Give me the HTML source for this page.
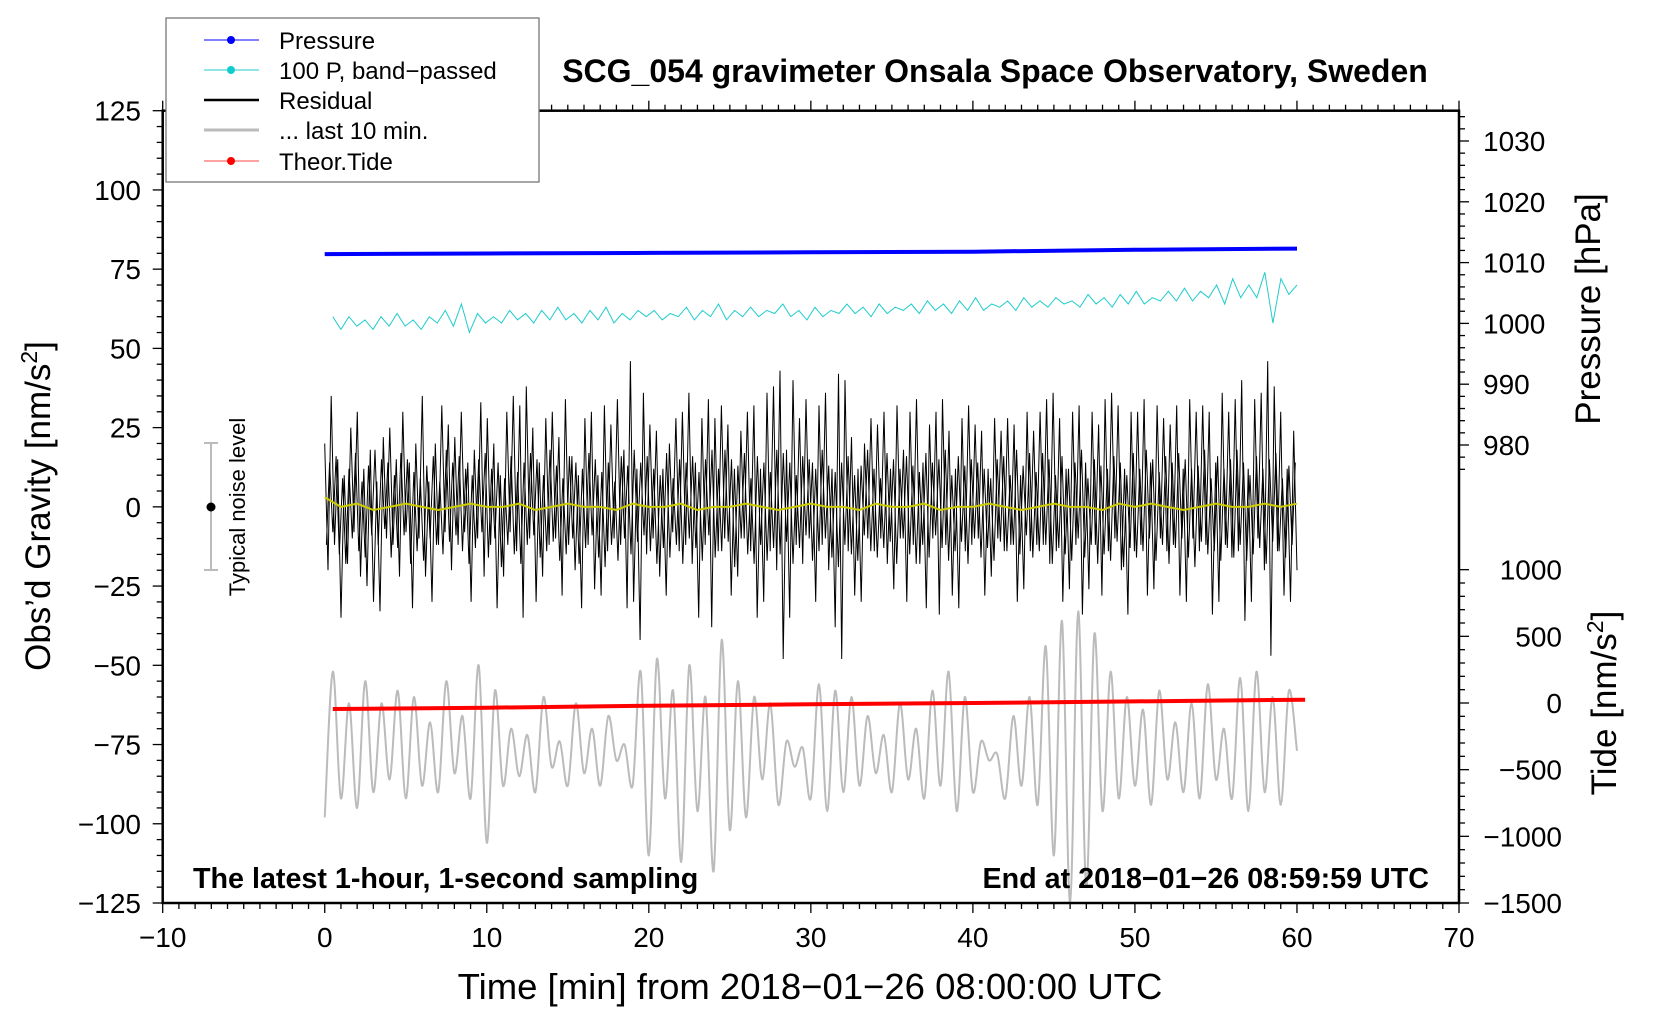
<!DOCTYPE html>
<html><head><meta charset="utf-8">
<style>
html,body{margin:0;padding:0;background:#fff;}
svg{display:block;font-family:"Liberation Sans",sans-serif;}
</style></head>
<body>
<svg id="chart" width="1660" height="1020" viewBox="0 0 1660 1020" xmlns="http://www.w3.org/2000/svg">
<rect x="0" y="0" width="1660" height="1020" fill="#fff"/>
<g id="plot"></g>
<g id="axes"></g>
<text x="995" y="82" font-size="32" font-weight="bold" text-anchor="middle">SCG_054 gravimeter Onsala Space Observatory, Sweden</text>
<text x="193" y="888" font-size="28.7" font-weight="bold">The latest 1-hour, 1-second sampling</text>
<text x="1429" y="888" font-size="28.7" font-weight="bold" text-anchor="end">End at 2018−01−26 08:59:59 UTC</text>
<text transform="translate(50,506) rotate(-90)" font-size="35" text-anchor="middle">Obs’d Gravity [nm/s<tspan font-size="23" dy="-13">2</tspan><tspan dy="13">]</tspan></text>
<text x="810" y="999" font-size="36.5" text-anchor="middle">Time [min] from 2018−01−26 08:00:00 UTC</text>
<text transform="translate(1600,309) rotate(-90)" font-size="35" text-anchor="middle">Pressure [hPa]</text>
<text transform="translate(1616,703) rotate(-90)" font-size="35" text-anchor="middle">Tide [nm/s<tspan font-size="23" dy="-13">2</tspan><tspan dy="13">]</tspan></text>
<g>
<line x1="211" y1="443" x2="211" y2="570" stroke="#bbb" stroke-width="2"/>
<line x1="204" y1="443" x2="218" y2="443" stroke="#bbb" stroke-width="2"/>
<line x1="204" y1="570" x2="218" y2="570" stroke="#bbb" stroke-width="2"/>
<circle cx="211" cy="507" r="4.5" fill="#000"/>
<text transform="translate(245,507) rotate(-90)" font-size="22" text-anchor="middle">Typical noise level</text>
</g>
<g>
<rect x="166" y="18" width="373" height="164" fill="#fff" stroke="#777" stroke-width="1.3"/>
<g><line x1="204" y1="40" x2="259" y2="40" stroke="#00f" stroke-width="1"/><circle cx="231" cy="40" r="4" fill="#00f"/><text x="279" y="49" font-size="24">Pressure</text></g>
<g><line x1="204" y1="70" x2="259" y2="70" stroke="#2cc" stroke-width="1"/><circle cx="231" cy="70" r="4" fill="#1cc"/><text x="279" y="79" font-size="24">100 P, band−passed</text></g>
<g><line x1="204" y1="100" x2="259" y2="100" stroke="#000" stroke-width="2.5"/><text x="279" y="109" font-size="24">Residual</text></g>
<g><line x1="204" y1="130" x2="259" y2="130" stroke="#bbb" stroke-width="3"/><text x="279" y="139" font-size="24">... last 10 min.</text></g>
<g><line x1="204" y1="161" x2="259" y2="161" stroke="#f44" stroke-width="1"/><circle cx="231" cy="161" r="4" fill="#f00"/><text x="279" y="170" font-size="24">Theor.Tide</text></g>
</g>
</svg>
<script>
// ---- data ----
const residual = [
20,-20,35,-12,15,-35,10,-18,25,-8,30,-22,12,-25,18,-30,8,-33,22,-10,
25,-12,15,-22,30,-8,14,-32,20,-10,35,-22,8,-30,20,-12,32,-8,26,-20,
22,-12,30,-8,14,-30,18,-10,33,-22,28,-12,20,-32,10,-22,30,-8,35,-14,
32,-35,38,-10,25,-30,14,-22,28,-12,30,-10,22,-28,34,-12,16,-20,10,-32,
28,-12,30,-26,10,-28,32,-14,26,-10,34,-12,18,-32,46,-30,12,-42,36,-15,
26,-10,24,-22,12,-28,20,-8,28,-14,30,-12,36,-18,14,-35,28,-12,34,-38,
28,-14,32,-10,26,-28,12,-22,24,-10,30,-14,32,-35,12,-30,36,-14,38,-20,
43,-48,18,-35,40,-12,28,-18,34,-10,14,-30,32,-12,36,-20,12,-38,42,-48,
40,-14,22,-28,12,-30,20,-10,28,-14,26,-10,30,-18,12,-26,32,-10,18,-30,
30,-12,34,-18,14,-32,26,-10,30,-34,34,-12,24,-28,12,-32,28,-14,32,-12,
26,-10,24,-28,12,-22,28,-10,24,-14,28,-12,26,-30,10,-26,30,-14,24,-12,
30,-12,34,-18,36,-14,28,-30,12,-26,30,-12,32,-34,14,-26,30,-12,26,-28,
34,-14,36,-10,32,-20,12,-34,30,-14,30,-12,34,-28,14,-26,32,-10,28,-14,
26,-12,32,-28,12,-30,34,-10,30,-14,32,-12,30,-34,14,-30,36,-12,30,-16,
34,-14,40,-36,12,-30,34,-10,36,-20,46,-47,38,-14,30,-28,12,-30,24,-20];
const residualCore = [
-12,14,-8,16,-15,9,-18,12,-10,17,-14,8,-16,13,-9,18,-12,15,-7,14,
-16,10,-13,17,-9,15,-18,11,-14,9,-17,13,-10,16,-12,8,-15,18,-11,14,
-9,16,-14,12,-18,10,-13,15,-8,17,-16,12,-10,14,-19,9,-12,16,-15,11,
-18,14,-12,17,-9,15,-16,10,-14,18,-11,13,-17,9,-15,16,-10,14,-18,12,
-13,17,-9,15,-16,11,-19,14,-12,8,-17,16,-10,13,-15,18,-11,14,-9,16,
-14,12,-18,10,-13,17,-16,9,-12,15,-18,14,-10,16,-13,11,-17,15,-9,18,
-16,12,-14,18,-11,15,-19,13,-10,17,-15,9,-18,16,-12,14,-17,11,-13,18,
-15,17,-11,14,-18,10,-13,16,-9,15,-17,12,-14,18,-10,13,-16,11,-19,14,
-12,16,-15,10,-17,13,-9,18,-14,12,-16,9,-13,17,-11,15,-18,12,-10,16,
-15,13,-18,11,-12,17,-16,14,-9,15,-13,18,-17,10,-14,16,-11,13,-18,15,
-10,14,-16,12,-13,9,-17,15,-11,16,-14,10,-12,18,-15,13,-9,17,-16,11,
-14,17,-12,15,-18,10,-13,16,-15,12,-17,14,-10,18,-16,9,-12,15,-18,13,
-15,12,-17,16,-11,14,-19,10,-13,17,-16,12,-14,18,-10,15,-17,11,-12,16,
-18,14,-13,17,-10,15,-16,12,-19,13,-11,18,-15,9,-14,16,-17,12,-13,15,
-16,18,-12,14,-17,10,-15,16,-13,12,-18,15,-11,17,-14,9,-16,13,-12,14];
const grayLast10 = [
-98,-52,-92,-62,-95,-55,-90,-62,-86,-58,-92,-60,-88,-68,-90,-55,-84,-66,-92,-50,
-106,-58,-88,-70,-85,-72,-90,-60,-82,-74,-88,-62,-84,-70,-88,-66,-80,-75,-88,-52,
-110,-48,-92,-58,-112,-50,-96,-60,-115,-42,-102,-55,-98,-60,-86,-62,-94,-74,-82,-76,
-92,-56,-96,-58,-90,-60,-88,-66,-84,-72,-90,-62,-86,-70,-92,-58,-88,-52,-96,-60,
-90,-74,-80,-78,-92,-66,-88,-60,-94,-44,-110,-36,-125,-33,-120,-40,-96,-52,-92,-60,
-88,-64,-94,-58,-86,-68,-90,-62,-92,-56,-86,-70,-92,-54,-96,-52,-90,-60,-94,-58,-77];
const cyan = [
60,56,60,57,59,56,60,57,61,57,59,56,60,58,62,57,64,55,61,58,
60,58,62,59,61,58,62,59,63,59,61,58,62,59,63,58,61,59,62,60,
62,59,61,60,63,59,62,60,64,59,62,60,63,60,62,61,64,60,62,59,
63,60,62,61,64,61,63,60,64,61,63,62,64,61,65,62,64,61,65,62,
66,62,64,63,65,62,66,63,65,63,66,64,65,63,67,64,66,63,67,64,
68,64,66,65,68,65,69,65,68,66,70,64,72,66,70,66,74,58,72,67,70];
const yellowRes = [3,0,1,-1,0,1,0,-1,0,1,0,0,1,-1,0,1,0,0,-1,1,0,0,1,-1,0,0,1,0,-1,0,1,0,0,-1,1,0,0,1,-1,0,0,1,0,-1,0,1,0,0,-1,1,0,1,0,-1,0,1,0,0,1,0,1];
const pressureTimes = [0,10,20,30,40,50,60];
const pressureHpa = [1011.4,1011.5,1011.6,1011.7,1011.8,1012.1,1012.3];
const tideTimes = [0.5,10,20,30,40,50,60.5];
const tideNms2 = [-45,-35,-20,-10,0,12,25];
const xTicks = [-10,0,10,20,30,40,50,60,70];
const yTicks = [125,100,75,50,25,0,-25,-50,-75,-100,-125];
const pTicks = [1030,1020,1010,1000,990,980];
const tTicks = [1000,500,0,-500,-1000,-1500];

// ---- scales ----
const X0=162.7, X1=1459, Y0=110.7, Y1=903;
const xs = t => X0 + (t+10)/80*(X1-X0);
const ys = v => (Y0+Y1)/2 - v*(Y1-Y0)/250;
const ps = p => 445 - (p-980)*(445-141)/50;
const ts = v => 703 - v*(903-703)/1500;
const NS='http://www.w3.org/2000/svg';
const plot=document.getElementById('plot'), axes=document.getElementById('axes');
function mk(tag, attrs, parent){const e=document.createElementNS(NS,tag);for(const k in attrs)e.setAttribute(k,attrs[k]);parent.appendChild(e);return e;}
function series(vals, t0, t1){const n=vals.length;return vals.map((v,i)=>[t0+(t1-t0)*i/(n-1), v]);}
function pathOf(pts, fx, fy){return pts.map((p,i)=>(i?'L':'M')+fx(p[0]).toFixed(1)+' '+fy(p[1]).toFixed(1)).join('');}
function smoothPath(pts, fx, fy){
  const P=pts.map(p=>[fx(p[0]),fy(p[1])]);let d='M'+P[0][0].toFixed(1)+' '+P[0][1].toFixed(1);
  for(let i=0;i<P.length-1;i++){const p0=P[Math.max(0,i-1)],p1=P[i],p2=P[i+1],p3=P[Math.min(P.length-1,i+2)];
    const c1=[p1[0]+(p2[0]-p0[0])/6,p1[1]+(p2[1]-p0[1])/6],c2=[p2[0]-(p3[0]-p1[0])/6,p2[1]-(p3[1]-p1[1])/6];
    d+='C'+c1.map(v=>v.toFixed(1)).join(' ')+' '+c2.map(v=>v.toFixed(1)).join(' ')+' '+p2[0].toFixed(1)+' '+p2[1].toFixed(1);}
  return d;}

let e;
e=mk('path',{d:smoothPath(series(grayLast10,0,60),xs,ys),fill:'none',stroke:'#bbb','stroke-width':2},plot);


e=mk('path',{d:pathOf(series(residualCore,0.1,59.9),xs,ys),fill:'none',stroke:'#000','stroke-width':1},plot);


e=mk('path',{d:pathOf(series(residual,0,60),xs,ys),fill:'none',stroke:'#000','stroke-width':1},plot);


e=mk('path',{d:pathOf(series(yellowRes,0,60),xs,ys),fill:'none',stroke:'#cc0','stroke-width':2},plot);


e=mk('path',{d:pathOf(series(cyan,0.5,60),xs,ys),fill:'none',stroke:'#2cc','stroke-width':1},plot);


e=mk('path',{d:pathOf(pressureTimes.map((t,i)=>[t,pressureHpa[i]]),xs,ps),fill:'none',stroke:'#00f','stroke-width':4},plot);


e=mk('path',{d:pathOf(tideTimes.map((t,i)=>[t,tideNms2[i]]),xs,ts),fill:'none',stroke:'#f00','stroke-width':4},plot);



e=mk('rect',{x:X0,y:Y0,width:X1-X0,height:Y1-Y0,fill:'none',stroke:'#000','stroke-width':2.5},axes);


for(let t=-10;t<=70;t++){const maj=t%10===0;const x=xs(t);
 mk('line',{x1:x,y1:Y1,x2:x,y2:Y1+(maj?10:6),stroke:'#000','stroke-width':1.3},axes);
 mk('line',{x1:x,y1:Y0,x2:x,y2:Y0-(maj?10:6),stroke:'#000','stroke-width':1.3},axes);}
xTicks.forEach(t=>{const l=mk('text',{x:xs(t),y:947,'font-size':28,'text-anchor':'middle'},axes);l.textContent=String(t).replace('-','−');
 
 });
for(let v=-125;v<=125;v+=5){const maj=v%25===0;const y=ys(v);
 mk('line',{x1:X0,y1:y,x2:X0-(maj?10:6),y2:y,stroke:'#000','stroke-width':1.3},axes);}
yTicks.forEach(v=>{const l=mk('text',{x:141,y:ys(v)+10,'font-size':28,'text-anchor':'end'},axes);l.textContent=String(v).replace('-','−');
 
 });
for(let p=1034;p>=976;p-=2){const y=ps(p);if(y<Y0)continue;const maj=p%10===0;
 mk('line',{x1:X1,y1:y,x2:X1+(maj?10:6),y2:y,stroke:'#000','stroke-width':1.3},axes);}
pTicks.forEach(p=>{const l=mk('text',{x:1483,y:ps(p)+10,'font-size':28},axes);l.textContent=p;
 
 });
for(let v=1000;v>=-1500;v-=100){const y=ts(v);const maj=v%500===0;
 mk('line',{x1:X1,y1:y,x2:X1+(maj?10:6),y2:y,stroke:'#000','stroke-width':1.3},axes);}
tTicks.forEach(v=>{const l=mk('text',{x:1562,y:ts(v)+10,'font-size':28,'text-anchor':'end'},axes);l.textContent=String(v).replace('-','−');
 
 });
</script>
</body></html>
